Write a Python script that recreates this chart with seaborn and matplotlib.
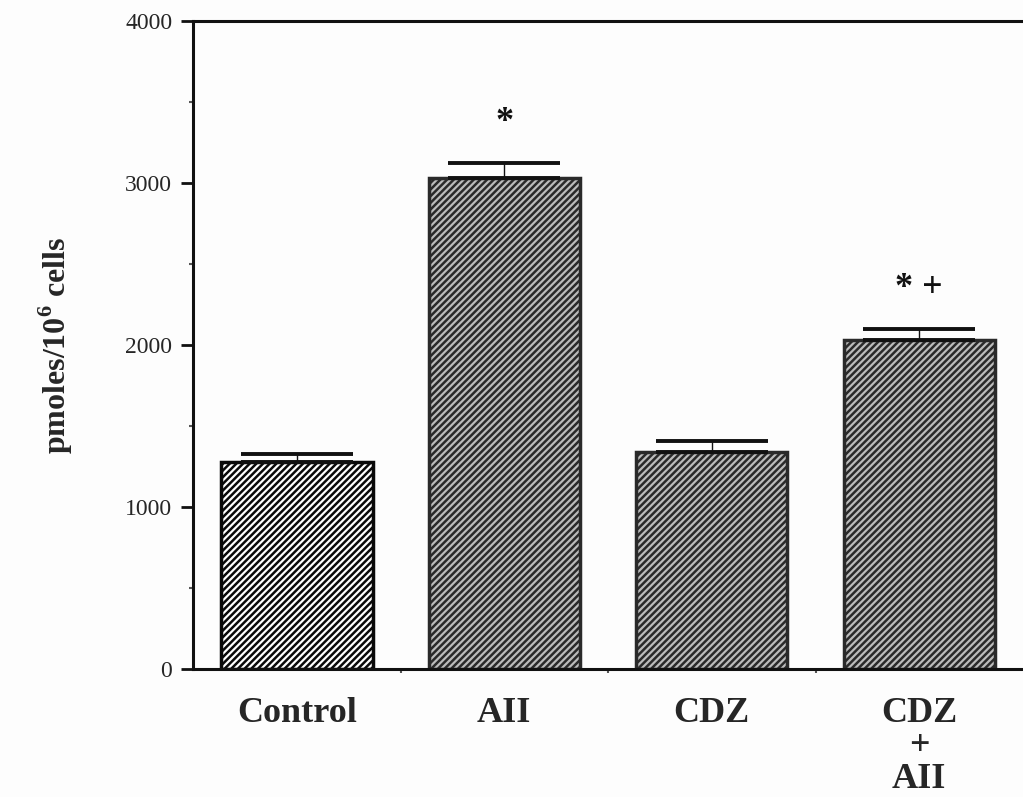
import matplotlib
matplotlib.use("Agg")
import matplotlib.pyplot as plt
import seaborn as sns
import pandas as pd
import numpy as np

categories = ["Control", "AII", "CDZ", "CDZ\n+\nAII"]
means = [1280, 3030, 1340, 2030]
errors = [50, 95, 65, 70]
annotations = ["", "*", "", "* +"]
y_ticks = [0, 1000, 2000, 3000, 4000]

sns.set_theme(style="white")
plt.rcParams["font.family"] = ["Liberation Serif", "DejaVu Serif"]
plt.rcParams["hatch.linewidth"] = 1.8
plt.rcParams["mathtext.fontset"] = "custom"
plt.rcParams["mathtext.rm"] = "Liberation Serif"
plt.rcParams["mathtext.bf"] = "Liberation Serif:bold"

df = pd.DataFrame({"group": categories, "value": means})

fig = plt.figure(figsize=(10.23, 7.97), dpi=100)
fig.patch.set_facecolor("#fdfdfd")
ax = fig.add_axes([0.1887, 0.1606, 0.8113, 0.8131])
ax.set_facecolor("#fdfdfd")

sns.barplot(data=df, x="group", y="value", ax=ax, width=0.73,
            color="#b0b0b0", errorbar=None, saturation=1)

face = ["#ffffff", "#bcbcbc", "#bcbcbc", "#bcbcbc"]
edge = ["#0a0a0a", "#2a2a2a", "#2a2a2a", "#2a2a2a"]
for i, p in enumerate(ax.patches):
    p.set_facecolor(face[i])
    p.set_hatch("/////")
    p.set_edgecolor(edge[i])
    p.set_linewidth(2.5)

x = np.arange(len(categories))
ax.errorbar(x, means, yerr=[np.zeros(len(errors)), errors], fmt="none",
            ecolor="#111111", elinewidth=1.0, capsize=40, capthick=2.8)

for xi, m, e, a in zip(x, means, errors, annotations):
    if a:
        ax.text(xi, m + e + 250, a, ha="center", va="center",
                fontsize=26, fontweight="bold", color="#111111")

ax.set_xlim(-0.5, 3.5)
ax.set_ylim(0, 4000)
ax.set_yticks(y_ticks)
ax.set_yticklabels([str(t) for t in y_ticks], fontsize=17)
ax.set_yticks(np.arange(500, 4000, 1000), minor=True)
ax.set_xticks([0.5, 1.5, 2.5], minor=True)
ax.tick_params(axis="y", which="major", direction="out", length=9, width=2,
               color="#111111", pad=6, left=True)
ax.tick_params(axis="y", which="minor", direction="out", length=3, width=1.5,
               color="#555555", left=True)
ax.tick_params(axis="x", which="major", length=0, pad=20)
ax.tick_params(axis="x", which="minor", direction="out", length=3, width=1.5,
               color="#555555", bottom=True)
for lab in ax.get_xticklabels():
    lab.set_fontsize(26)
    lab.set_fontweight("bold")
    lab.set_linespacing(1.0)
    lab.set_verticalalignment("top")

ax.set_xlabel("")
ax.set_ylabel(r"pmoles/10$^{\mathbf{6}}$ cells", fontsize=23, fontweight="bold",
              labelpad=36)

for s in ["left", "top", "bottom"]:
    ax.spines[s].set_visible(True)
    ax.spines[s].set_color("#111111")
    ax.spines[s].set_linewidth(2.2)
ax.spines["right"].set_visible(False)

fig.savefig("out.png", dpi=100, facecolor=fig.get_facecolor())
